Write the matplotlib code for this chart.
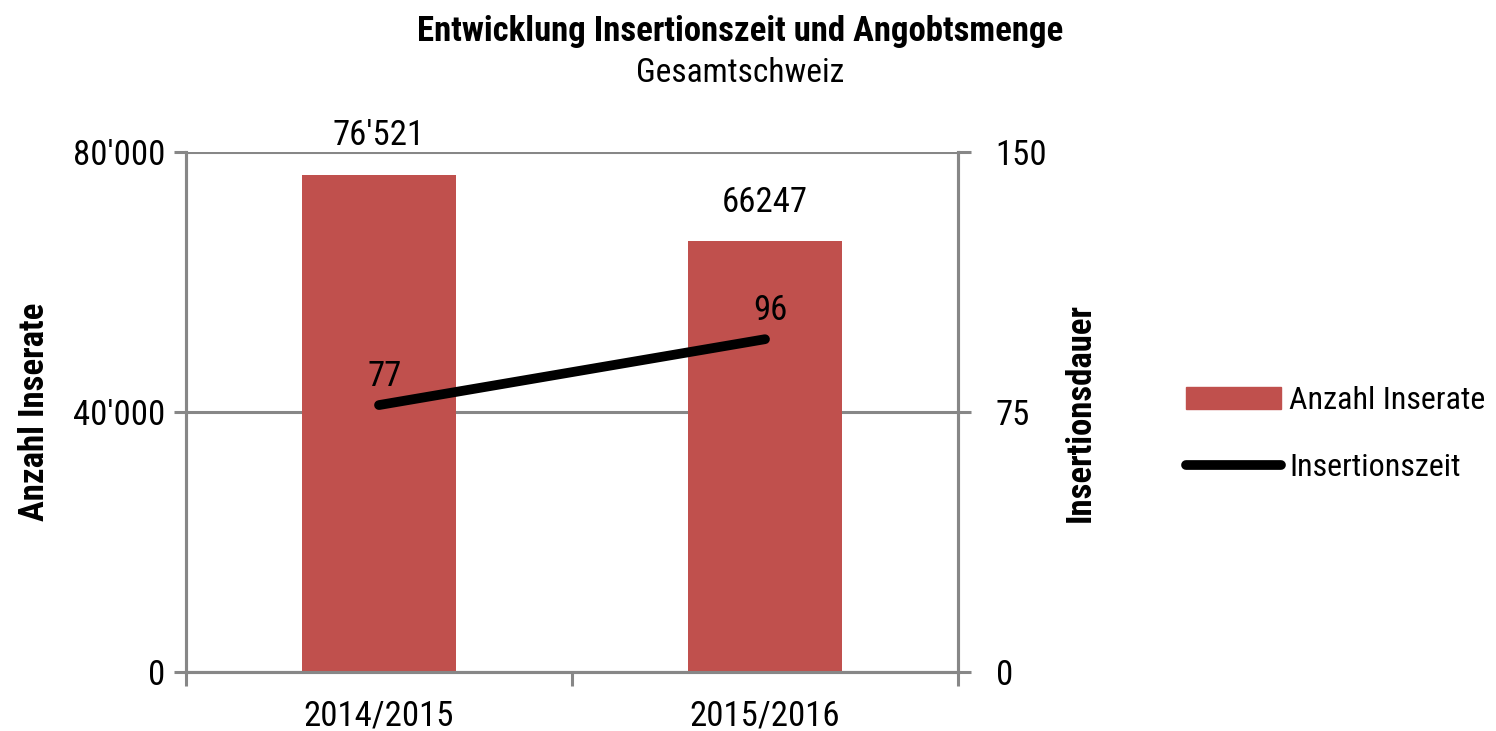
import matplotlib
matplotlib.use("Agg")
import matplotlib.pyplot as plt
from matplotlib.patches import Patch
from matplotlib.lines import Line2D
from matplotlib.ticker import FuncFormatter
from matplotlib import font_manager

names = {f.name for f in font_manager.fontManager.ttflist}
fam = ["Liberation Sans Narrow"] if "Liberation Sans Narrow" in names else ["Roboto Condensed", "Liberation Sans", "DejaVu Sans"]
plt.rcParams["font.family"] = fam + ["DejaVu Sans"]

categories = ["2014/2015", "2015/2016"]
inserate = [76521, 66247]
inserate_labels = ["76'521", "66247"]
insertionszeit = [77, 96]
zeit_labels = ["77", "96"]

bar_color = "#C0504D"
grey = "#878787"
fs = 25

fig = plt.figure(figsize=(14.96, 7.31), dpi=100)
ax = fig.add_axes([186/1496, 1 - 672/731, (958-186)/1496, (672-152)/731])
ax2 = ax.twinx()

x = list(range(len(categories)))
ax.bar(x, inserate, width=0.40, color=bar_color, zorder=2)
ax.set_xlim(-0.5, len(categories) - 0.5)
ax.set_ylim(0, 80000)
ax.set_yticks([0, 40000, 80000])
ax.yaxis.set_major_formatter(FuncFormatter(lambda v, p: f"{int(v):,}".replace(",", "'")))
ax.grid(axis="y", color=grey, linewidth=2.2, zorder=0)
ax.set_axisbelow(True)

ax2.plot(x, insertionszeit, color="black", linewidth=7, solid_capstyle="round", zorder=3)
ax2.set_ylim(0, 150)
ax2.set_yticks([0, 75, 150])

for xi, v, lab in zip(x, inserate, inserate_labels):
    ax.annotate(lab, (xi, v), xytext=(0, 16), textcoords="offset points",
                ha="center", va="bottom", fontsize=fs)
for xi, v, lab in zip(x, insertionszeit, zeit_labels):
    ax2.annotate(lab, (xi, v), xytext=(4, 9), textcoords="offset points",
                 ha="center", va="bottom", fontsize=fs)

ax.set_xticks(x)
ax.set_xticklabels(categories, fontsize=fs)
ax.set_xticks([-0.5, 0.5, 1.5], minor=True)
ax.tick_params(axis="x", which="major", length=0, pad=20)
ax.tick_params(axis="x", which="minor", length=10, width=2.2, color=grey, direction="out")
ax.tick_params(axis="y", length=9, width=2.2, color=grey, labelsize=fs, pad=6)
ax2.tick_params(axis="y", length=9, width=2.2, color=grey, labelsize=fs, pad=18)

for a in (ax, ax2):
    a.spines["top"].set_visible(False)
    for s in ("left", "right", "bottom"):
        a.spines[s].set_color(grey)
        a.spines[s].set_linewidth(2.2)

ax.set_ylabel("Anzahl Inserate", fontsize=fs, fontweight="bold", labelpad=16)
ax2.set_ylabel("Insertionsdauer", fontsize=fs, fontweight="bold", labelpad=12)

fig.text(0.495, 0.957, "Entwicklung Insertionszeit und Angobtsmenge", ha="center", va="center",
         fontsize=fs, fontweight="bold")
fig.text(0.495, 0.9, "Gesamtschweiz", ha="center", va="center", fontsize=24)

handles = [Patch(facecolor=bar_color, edgecolor=bar_color),
           Line2D([0], [0], color="black", linewidth=7, solid_capstyle="round")]
fig.legend(handles, ["Anzahl Inserate", "Insertionszeit"], loc="center left",
           bbox_to_anchor=(0.784, 0.406), frameon=False, fontsize=23,
           handlelength=3.0, handleheight=0.7, handletextpad=0.25, labelspacing=1.2,
           borderaxespad=0)

fig.savefig("out.png", dpi=100, facecolor="white")
